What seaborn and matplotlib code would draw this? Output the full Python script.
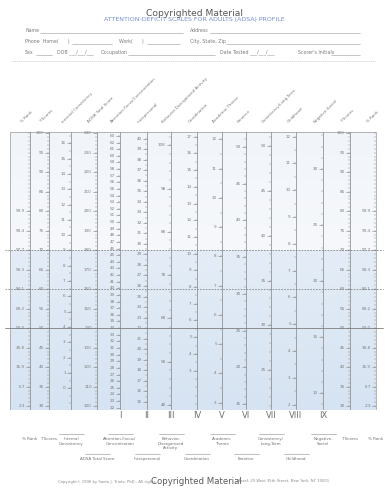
import numpy as np
import pandas as pd
import matplotlib
matplotlib.use("Agg")
import matplotlib.pyplot as plt
from matplotlib.colors import LinearSegmentedColormap
import seaborn as sns

sns.set_theme(style="white")
plt.rcParams['font.family'] = ['DejaVu Sans']

# ---------------- data read from the form ----------------
t_labels = list(range(30, 101, 5))
rank_t = list(range(30, 81, 5))
rank_labels = ["2.3", "6.7", "15.9", "30.8", "50.0", "69.2", "84.1", "93.3", "97.7", "99.4", "99.9"]

# raw-score scales: labels, minor step, and two (raw, T) anchor points
ic_labels = list(range(0, 17));        ic_anchor = [(0, 34.6), (16, 97.4)];   ic_minor = 0.5
adsa_labels = list(range(100, 241, 10)); adsa_anchor = [(100, 30.0), (240, 100.0)]; adsa_minor = 2
att_labels = list(range(22, 64));      att_anchor = [(22, 29.6), (63, 99.3)];  att_minor = 1
inter_labels = list(range(15, 41));    inter_anchor = [(15, 31.1), (40, 98.6)]; inter_minor = 0.5
beh_labels = list(range(48, 109, 10)); beh_anchor = [(48, 30.3), (108, 96.9)]; beh_minor = 2
coord_labels = list(range(3, 18));     coord_anchor = [(3, 39.1), (17, 99.1)]; coord_minor = 0.5
acad_labels = list(range(3, 13));      acad_anchor = [(3, 30.9), (12, 98.4)];  acad_minor = 0.5
emot_labels = list(range(15, 51, 5));  emot_anchor = [(15, 30.5), (50, 96.5)]; emot_minor = 1
cons_labels = list(range(25, 51, 5));  cons_anchor = [(25, 39.2), (50, 96.7)]; cons_minor = 1
child_labels = list(range(2, 13));     child_anchor = [(2, 30.4), (12, 99.1)]; child_minor = 0.5
neg_labels = list(range(10, 31, 5));   neg_anchor = [(10, 33.3), (30, 90.8)];  neg_minor = 1

header_names = ["% Rank", "T Scores", "Internal Consistency", "ADSA Total Score",
                "Attention-Focus/Concentration", "Interpersonal", "Behavior-Disorganized Activity",
                "Coordination", "Academic Theme", "Emotive", "Consistency/Long-Term",
                "Childhood", "Negative-Social", "T Scores", "% Rank"]
roman = ["I", "II", "III", "IV", "V", "VI", "VII", "VIII", "IX"]
bottom_row1 = ["% Rank", "T Scores", "Internal\nConsistency", None, "Attention-Focus/\nConcentration",
               None, "Behavior-\nDisorganized\nActivity", None, "Academic\nTheme", None,
               "Consistency/\nLong-Term", None, "Negative-\nSocial", "T Scores", "% Rank"]
bottom_row2 = [None, None, None, "ADSA Total Score", None, "Interpersonal", None, "Coordination",
               None, "Emotive", None, "Childhood", None, None, None]
ref_levels = [70, 60, 50]

# ---------------- layout ----------------
W, H = 387, 500
col_x = [30, 49, 71, 97, 120, 147, 171, 197, 222, 246, 271, 296, 323, 350, 376]
box_l, box_r, box_top, box_bot = 10, 376, 132, 410
T_lo, T_hi = 29.0, 100.3

fig = plt.figure(figsize=(W / 100, H / 100), dpi=100)
fig.patch.set_facecolor("white")
bg = fig.add_axes([0, 0, 1, 1])
bg.set_xlim(0, W); bg.set_ylim(H, 0); bg.axis("off")

ax = fig.add_axes([0, 1 - box_bot / H, 1, (box_bot - box_top) / H])
ax.set_xlim(0, W); ax.set_ylim(T_lo, T_hi)
ax.axis("off")
ax.patch.set_alpha(0)

gray = "#8c8c8c"
lgray = "#a8a8a8"
tcol = "#7a7a7a"

# background shading
cm_top = LinearSegmentedColormap.from_list("t", ["#f6f8fb", "#f1f5fa"])
cm_bot = LinearSegmentedColormap.from_list("b", ["#d6e3f2", "#e4edf7"])
grad = np.linspace(0, 1, 100).reshape(-1, 1)
ax.imshow(grad, extent=[box_l, box_r, T_lo, 70], aspect="auto", cmap=cm_bot, origin="lower", zorder=0)
ax.imshow(grad, extent=[box_l, box_r, 70, T_hi], aspect="auto", cmap=cm_top, origin="lower", zorder=0)
ax.set_xlim(0, W); ax.set_ylim(T_lo, T_hi)

# box
ax.plot([box_l, box_r, box_r, box_l, box_l], [T_lo, T_lo, T_hi, T_hi, T_lo], color=lgray, lw=0.6, zorder=2)

# vertical axis lines
for x in col_x[:-1]:
    ax.plot([x, x], [T_lo, T_hi], color=gray, lw=0.55, zorder=2)


def lin(anchor):
    (r0, t0), (r1, t1) = anchor
    s = (t1 - t0) / (r1 - r0)
    return lambda r: t0 + (np.asarray(r, dtype=float) - r0) * s


def draw_scale(x, tpos, labels, minor_t, fs=3.0):
    ax.hlines(minor_t, x - 2.2, x, color=gray, lw=0.35, zorder=3)
    ax.hlines(tpos, x - 4.2, x, color=gray, lw=0.45, zorder=3)
    for t, lab in zip(tpos, labels):
        ax.text(x - 5.2, t, str(lab), ha="right", va="center", fontsize=fs, color=tcol, zorder=4)


# % rank and T scales (both sides)
t_minor = np.arange(30, 101, 1)
for xi in (0, 14):
    draw_scale(col_x[xi], rank_t, rank_labels, t_minor)
for xi in (1, 13):
    draw_scale(col_x[xi], t_labels, t_labels, t_minor)

scales = [
    (2, ic_labels, ic_anchor, ic_minor),
    (3, adsa_labels, adsa_anchor, adsa_minor),
    (4, att_labels, att_anchor, att_minor),
    (5, inter_labels, inter_anchor, inter_minor),
    (6, beh_labels, beh_anchor, beh_minor),
    (7, coord_labels, coord_anchor, coord_minor),
    (8, acad_labels, acad_anchor, acad_minor),
    (9, emot_labels, emot_anchor, emot_minor),
    (10, cons_labels, cons_anchor, cons_minor),
    (11, child_labels, child_anchor, child_minor),
    (12, neg_labels, neg_anchor, neg_minor),
]
for xi, labels, anchor, mstep in scales:
    f = lin(anchor)
    (r0, t0), (r1, t1) = anchor
    slope = (t1 - t0) / (r1 - r0)
    rmin = r0 - (t0 - 30) / slope
    rmax = r0 + (99.8 - t0) / slope
    rlo = max(rmin, labels[0] - 4 * (labels[1] - labels[0]))
    minor_r = np.arange(np.ceil(rlo / mstep) * mstep, rmax + 1e-9, mstep)
    minor_t = f(minor_r)
    minor_t = minor_t[(minor_t >= 29.8) & (minor_t <= 99.9)]
    draw_scale(col_x[xi], f(labels), labels, minor_t)

# reference lines
for lvl in ref_levels:
    df = pd.DataFrame({"x": [5, 383], "T": [lvl, lvl]})
    sns.lineplot(data=df, x="x", y="T", ax=ax, color="#7d7d7d", lw=0.6 if lvl == 50 else 0.55,
                 linestyle="-" if lvl == 50 else (0, (2.2, 1.6)), zorder=5)
ax.set_xlim(0, W); ax.set_ylim(T_lo, T_hi)
ax.axis("off")

# ---------------- header ----------------
bg.text(194, 14, "Copyrighted Material", ha="center", va="center", fontsize=6.6,
        color="#555555", zorder=5)
bg.text(194, 20, "ATTENTION-DEFICIT SCALES FOR ADULTS (ADSA) PROFILE", ha="center", va="center",
        fontsize=4.5, color="#7390d0", zorder=4)

ffs = 3.4
fc = "#7a7a7a"
lc = "#9a9a9a"


def field(x, y, label, x0, x1):
    bg.text(x, y, label, ha="left", va="bottom", fontsize=ffs, color=fc)
    if x1 > x0:
        bg.plot([x0, x1], [y + 0.3, y + 0.3], color=lc, lw=0.4)


field(25, 33, "Name", 40, 183)
field(190, 33, "Address", 210, 360)
field(25, 44, "Phone  Home(      )", 72, 112)
field(119, 44, "Work(      )", 147, 180)
field(190, 44, "City, State, Zip", 226, 360)
field(25, 55, "Sex", 36, 52)
field(57, 55, "DOB ___/___/___", 0, 0)
field(101, 55, "Occupation", 128, 215)
field(220, 55, "Date Tested ___/___/___", 0, 0)
field(298, 55, "Scorer's Initials", 331, 360)
bg.plot([12, 375], [61, 61], color="#c8c8c8", lw=0.5, linestyle=(0, (2, 1)))

# rotated column headers
for x, name in zip(col_x, header_names):
    bg.text(x - 7, 124, name, rotation=45, rotation_mode="anchor", ha="left", va="bottom",
            fontsize=3.0, color="#7a7a7a")

# ---------------- bottom ----------------
for x, r in zip(col_x[4:13], roman):
    bg.text(x, 416, r, ha="center", va="center", fontsize=6.0, color="#6e6e6e")

for x, lab in zip(col_x, bottom_row1):
    if lab:
        bg.text(x, 437, lab, ha="center", va="top", fontsize=2.9, color="#707070", linespacing=1.2)
        if "\n" in lab:
            bg.plot([x - 12.5, x + 12.5], [434, 434], color=lc, lw=0.45)
for x, lab in zip(col_x, bottom_row2):
    if lab:
        bg.text(x, 457, lab, ha="center", va="top", fontsize=2.9, color="#707070")
        bg.plot([x - 12.5, x + 12.5], [454, 454], color=lc, lw=0.45)

bg.text(156, 481.5, "Copyright\u00a9 1996 by Santo J. Triolo, PhD., All rights",
        ha="right", va="center", fontsize=2.7, color="#8a8a8a")
bg.text(237, 481.5, "Mazel, 29 West 35th Street, New York, NY 10001",
        ha="left", va="center", fontsize=2.7, color="#8a8a8a")
bg.text(196.5, 481, "Copyrighted Material", ha="center", va="center", fontsize=6.2, color="#5a5a5a",
        zorder=5)

fig.savefig("out.png", dpi=100, facecolor="white")
